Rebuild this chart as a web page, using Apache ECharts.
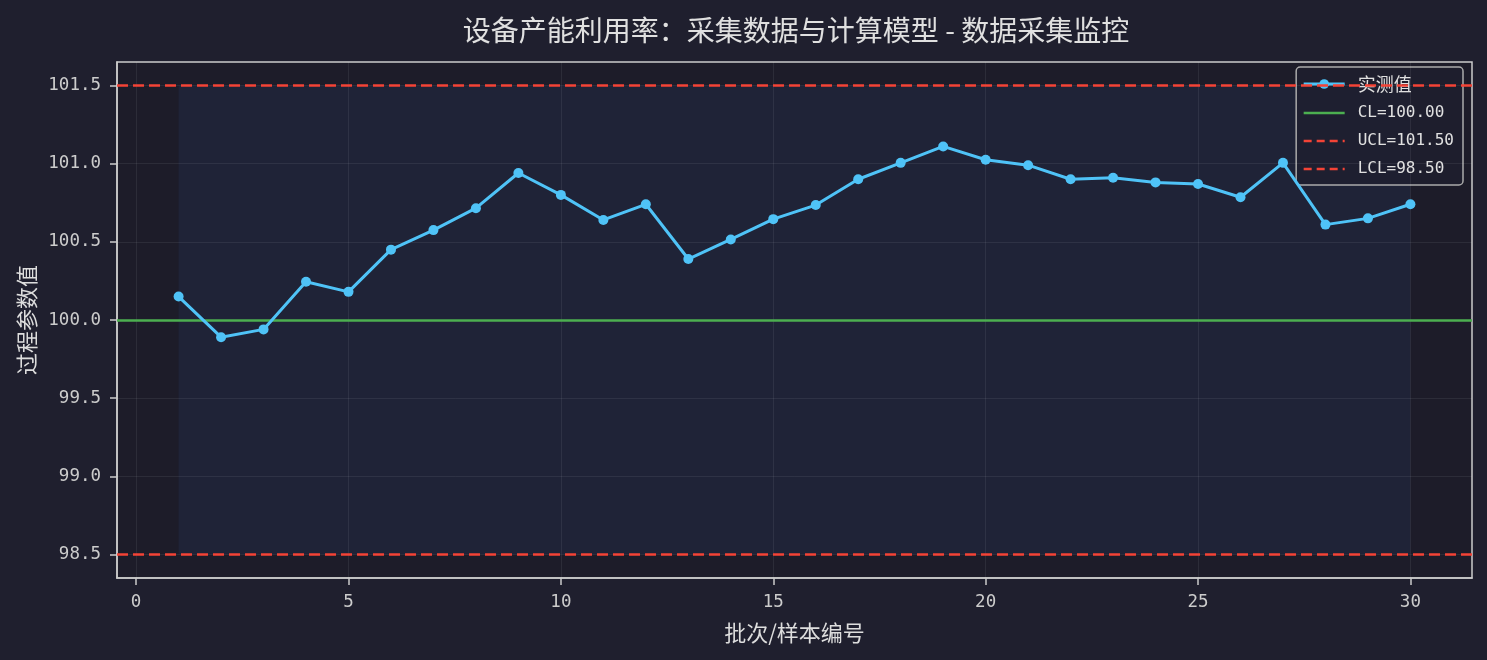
<!DOCTYPE html>
<html>
<head>
<meta charset="utf-8">
<script src="https://cdn.jsdelivr.net/npm/echarts@6/dist/echarts.min.js"></script>
<style>
html,body{margin:0;padding:0;background:#1f1f2e;}
#chart{width:1487px;height:660px;}
</style>
</head>
<body>
<div id="chart"></div>
<script>
// ---- data ----
const batches = [1,2,3,4,5,6,7,8,9,10,11,12,13,14,15,16,17,18,19,20,21,22,23,24,25,26,27,28,29,30];
const measured = [100.15,99.89,99.94,100.245,100.18,100.45,100.575,100.715,100.94,100.80,100.64,100.74,100.39,100.515,100.645,100.735,100.90,101.005,101.11,101.025,100.99,100.90,100.91,100.88,100.87,100.785,101.005,100.61,100.65,100.74];
const CL = 100.00, UCL = 101.50, LCL = 98.50;
const xTicks = [0,5,10,15,20,25,30];
const yTicks = [98.5,99.0,99.5,100.0,100.5,101.0,101.5];
const titleText = '设备产能利用率：采集数据与计算模型 - 数据采集监控';
const xName = '批次/样本编号';
const yName = '过程参数值';
const legendNames = ['实测值','CL=100.00','UCL=101.50','LCL=98.50'];

const chart = echarts.init(document.getElementById('chart'), null, {renderer:'canvas'});
const mono = "'DejaVu Sans Mono','Noto Sans CJK SC',monospace";
const cjk = "'Noto Sans CJK SC','Noto Sans',sans-serif";
const gridColor = 'rgba(255,255,255,0.07)';
const tickStyle = {show:true, length:7, inside:false, lineStyle:{color:'#cccccc', width:1.5}};
const lineAx = {show:true, onZero:false, lineStyle:{color:'#cccccc', width:1.5}};

const option = {
  backgroundColor: '#1f1f2e',
  animation: false,
  title: {
    text: titleText, left: 791, textAlign: 'center', top: 11,
    textStyle: {color:'#e0e0e0', fontSize:28, fontWeight:'normal', fontFamily: cjk}
  },
  legend: {
    right: 24, top: 67, orient: 'vertical',
    backgroundColor: 'rgba(30,30,46,0.82)', borderColor: '#aaaaaa', borderWidth: 1.5, borderRadius: 4,
    padding: [8, 9, 8, 6], itemGap: 12, itemWidth: 41, itemHeight: 12,
    formatter: n => /[\u4e00-\u9fff]/.test(n) ? '{c|' + n + '}' : '{m|' + n + '}',
    textStyle: {color:'#e0e0e0', fontSize: 16, fontFamily: mono,
      rich: {c:{fontFamily:cjk, fontSize:18, lineHeight:18, color:'#e0e0e0', padding:[0,0,0,8]},
             m:{fontFamily:mono, fontSize:16, lineHeight:18, color:'#e0e0e0', padding:[0,0,0,8]}}},
    data: [
      {name: legendNames[0], lineStyle:{width:3}},
      {name: legendNames[1], itemStyle:{opacity:0}, lineStyle:{width:2.5}},
      {name: legendNames[2], itemStyle:{opacity:0}, lineStyle:{width:2.5, type:[8,5]}},
      {name: legendNames[3], itemStyle:{opacity:0}, lineStyle:{width:2.5, type:[8,5]}}
    ]
  },
  grid: {left:117, right:15, top:62, bottom:82, show:true, backgroundColor:'#1d1c29', borderColor:'#cccccc', borderWidth:1.5, containLabel:false},
  xAxis: {
    type:'value', min:-0.45, max:31.45,
    axisLine:lineAx,
    axisTick:Object.assign({customValues:xTicks}, tickStyle),
    axisLabel:{customValues:xTicks, color:'#cccccc', fontSize:17.5, fontFamily:mono, margin:16},
    splitLine:{show:false},
    name:xName, nameLocation:'middle', nameGap:44,
    nameTextStyle:{color:'#dddddd', fontSize:22, fontFamily:cjk}
  },
  yAxis: {
    type:'value', min:98.35, max:101.65,
    axisLine:lineAx,
    axisTick:Object.assign({customValues:yTicks}, tickStyle),
    axisLabel:{customValues:yTicks, color:'#cccccc', fontSize:17.5, fontFamily:mono, margin:16, formatter: v => v.toFixed(1)},
    splitLine:{show:false},
    name:yName, nameLocation:'middle', nameGap:76, nameRotate:90,
    nameTextStyle:{color:'#dddddd', fontSize:22, fontFamily:cjk}
  },
  series: [
    {
      name:'grid', type:'line', data:[], silent:true,
      markLine:{silent:true, symbol:['none','none'], label:{show:false}, animation:false,
        lineStyle:{color:gridColor, width:1, type:'solid'},
        data: xTicks.map(v=>({xAxis:v})).concat(yTicks.map(v=>({yAxis:v})))},
      markArea:{silent:true, itemStyle:{color:'rgba(40,62,105,0.22)'},
        data:[[{xAxis:batches[0], yAxis:LCL},{xAxis:batches[batches.length-1], yAxis:UCL}]]}
    },
    {
      name:legendNames[1], type:'line', data:[], symbol:'none', symbolSize:0,
      lineStyle:{color:'#4caf50', width:2.5},
      itemStyle:{color:'#4caf50'},
      markLine:{silent:true, symbol:['none','none'], label:{show:false}, lineStyle:{color:'#4caf50', width:2.5, type:'solid'}, data:[{yAxis:CL}]}
    },
    {
      name:legendNames[2], type:'line', data:[], symbol:'none', symbolSize:0,
      lineStyle:{color:'#f44336', width:2.5, type:[11,5]},
      itemStyle:{color:'#f44336'},
      markLine:{silent:true, symbol:['none','none'], label:{show:false}, lineStyle:{color:'#f44336', width:2.5, type:[11,5]}, data:[{yAxis:UCL}]}
    },
    {
      name:legendNames[3], type:'line', data:[], symbol:'none', symbolSize:0,
      lineStyle:{color:'#f44336', width:2.5, type:[11,5]},
      itemStyle:{color:'#f44336'},
      markLine:{silent:true, symbol:['none','none'], label:{show:false}, lineStyle:{color:'#f44336', width:2.5, type:[11,5]}, data:[{yAxis:LCL}]}
    },
    {
      name:legendNames[0], type:'line', z:5,
      data: batches.map((b,i)=>[b, measured[i]]),
      symbol:'circle', symbolSize:10, showSymbol:true,
      lineStyle:{color:'#4fc3f7', width:3},
      itemStyle:{color:'#4fc3f7'}
    }
  ]
};
chart.setOption(option);
</script>
</body>
</html>
